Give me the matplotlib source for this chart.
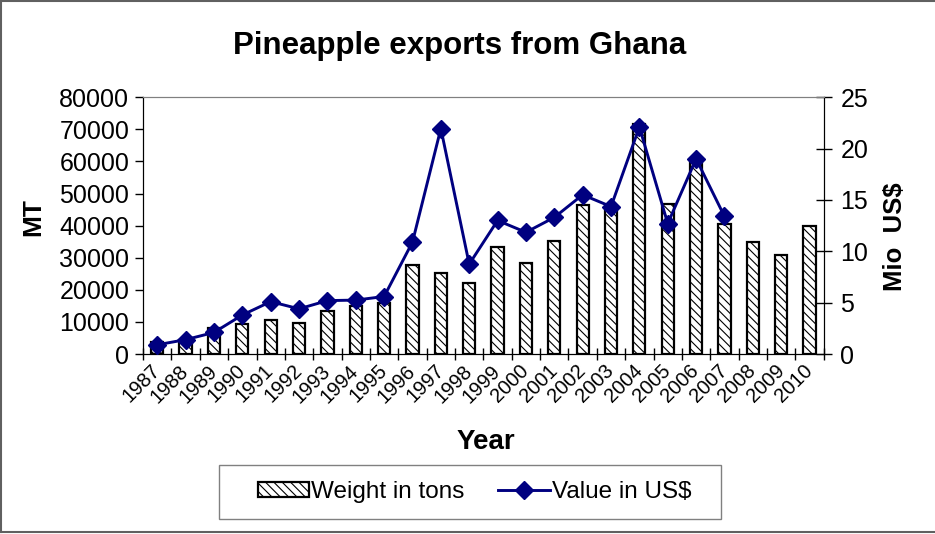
import numpy as np
import matplotlib
matplotlib.use("Agg")
import matplotlib.pyplot as plt
from matplotlib.patches import Rectangle
from matplotlib.lines import Line2D

plt.rcParams["font.family"] = ["Liberation Sans", "DejaVu Sans"]
plt.rcParams["hatch.linewidth"] = 0.8

# ---------------- data ----------------
years = [str(y) for y in range(1987, 2011)]
weight_tons = [3800, 4500, 8000, 9500, 10700, 9800, 13300, 14900, 15800, 27700,
               25100, 22000, 33400, 28400, 35200, 46400, 45000, 71800, 46600, 60900,
               40400, 35000, 31000, 39900]
value_years = years[:21]                     # value series stops at 2007
value_mio_usd = [0.9, 1.4, 2.1, 3.8, 5.1, 4.4, 5.2, 5.25, 5.6, 10.9,
                 21.95, 8.75, 13.0, 11.85, 13.3, 15.5, 14.35, 22.1, 12.7, 19.0,
                 13.4]

NAVY = "#000080"
W, H = 935, 534

fig = plt.figure(figsize=(9.35, 5.34), dpi=100)
ax = fig.add_axes([0.153, 0.337, 0.728, 0.481])
ax2 = ax.twinx()

x = np.arange(len(years))
bars = ax.bar(x, weight_tons, width=0.43, color="white", edgecolor="black",
              linewidth=1.6, hatch="\\\\\\\\", label="Weight in tons", zorder=2)
xv = np.arange(len(value_years))
line, = ax2.plot(xv, value_mio_usd, color=NAVY, lw=2.1, marker="D",
                 markersize=9, label="Value in US$", zorder=3)

ax.set_xlim(-0.5, len(years) - 0.5)
ax.set_ylim(0, 80000)
ax2.set_ylim(0, 25)
ax.set_yticks(np.arange(0, 80001, 10000))
ax2.set_yticks(np.arange(0, 26, 5))

# category ticks sit between bars (Excel style); labels at centres
ax.set_xticks(np.arange(-0.5, len(years), 1.0))
ax.set_xticklabels([])
ax.set_xticks(x, minor=True)
ax.set_xticklabels(years, minor=True, rotation=45, ha="right", va="center",
                   rotation_mode="anchor", fontsize=14.5)
ax.tick_params(axis="x", which="minor", length=0, pad=10)
ax.tick_params(axis="x", which="major", direction="inout", length=8, width=1)
ax.tick_params(axis="y", direction="out", length=6, width=1, labelsize=18, pad=4)
ax2.tick_params(axis="y", direction="inout", length=12, width=1, labelsize=18, pad=6)

for a in (ax, ax2):
    a.spines["top"].set_color("#808080")
    a.spines["left"].set_color("black")
    a.spines["right"].set_color("black")
    a.spines["bottom"].set_color("black")

fig.text(0.492, 0.913, "Pineapple exports from Ghana", ha="center", va="center",
         fontsize=22.5, fontweight="bold")
fig.text(0.036, 0.594, "MT", rotation=90, ha="center", va="center",
         fontsize=19, fontweight="bold")
fig.text(0.957, 0.556, "Mio  US$", rotation=90, ha="center", va="center",
         fontsize=18.5, fontweight="bold")
fig.text(0.52, 0.172, "Year", ha="center", va="center",
         fontsize=20, fontweight="bold")

# legend: contents without frame, frame drawn as a box like the original
leg = fig.legend(handles=[bars, line], loc="center", bbox_to_anchor=(0.5075, 0.079),
                 ncol=2, fontsize=17.5, frameon=False, handlelength=2.1,
                 handleheight=0.55, handletextpad=0.1, columnspacing=1.4)
fig.patches.append(Rectangle((219 / W, 1 - 519 / H), 502 / W, 54 / H,
                             transform=fig.transFigure, fill=False,
                             edgecolor="#808080", lw=1.0))

# outer chart border (top, left, bottom)
for xs, ys in [((0.001, 1.0), (0.999, 0.999)),
               ((0.0015, 0.0015), (0.003, 0.999)),
               ((0.001, 1.0), (0.004, 0.004))]:
    fig.add_artist(Line2D(xs, ys, transform=fig.transFigure,
                          color="#606060", lw=1.5))

fig.savefig("out.png", dpi=100)
